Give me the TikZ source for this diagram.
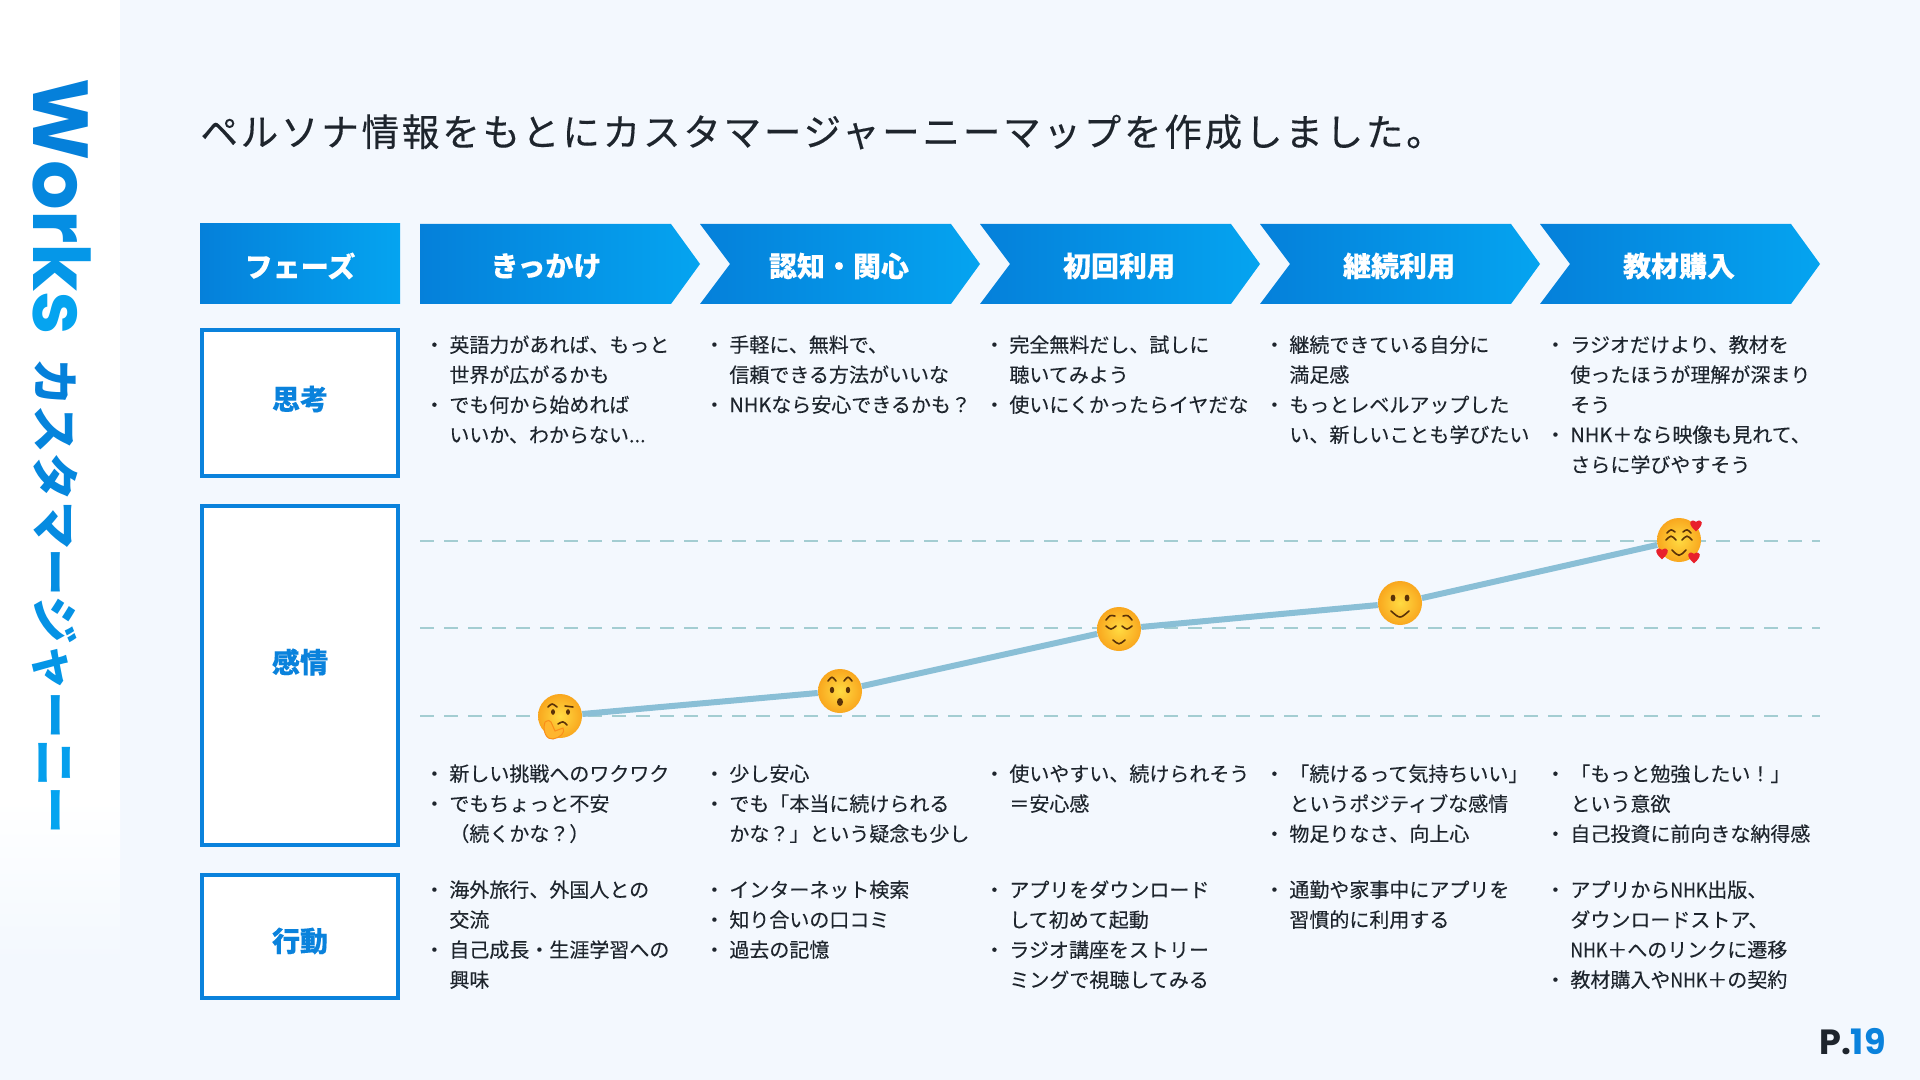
\documentclass[tikz,border=0pt]{standalone}
\usepackage{fontspec}
\setmainfont{Noto Sans CJK JP}[FakeBold=0.12]
\newfontfamily\latinfont{Poppins}
\newfontfamily\sidefont{Noto Sans CJK JP Bold}
\newfontfamily\titlefont{Noto Sans CJK JP}[FakeBold=0.3,LetterSpace=7.2]
\newfontfamily\narrowfont{Noto Sans CJK JP}[FakeBold=0.12,FakeStretch=0.88]
\usetikzlibrary{positioning,calc}
\definecolor{bgpage}{HTML}{F3F8FE}
\definecolor{blueD}{HTML}{0580DA}
\definecolor{blueL}{HTML}{05A4F0}
\definecolor{boxline}{HTML}{0A82DC}
\definecolor{inkdark}{HTML}{1E252D}
\definecolor{moodline}{HTML}{8ABFD6}
\definecolor{guideline}{HTML}{A3CDD2}
\definecolor{faceink}{HTML}{5A3208}
\definecolor{facein}{HTML}{FFDB42}
\definecolor{faceout}{HTML}{F9A71E}
\definecolor{handfill}{HTML}{FFB52E}
\definecolor{heartred}{HTML}{E8202C}
\newcommand{\bl}{\llap{・\kern2.5pt}}
\newcommand{\nhk}{{\narrowfont NHK}}
\newcommand{\hart}[3]{\fill[heartred,shift={(#1,#2)},scale=#3] (0,3.5) .. controls (-5,-0.5) and (-3.5,-4) .. (0,-1.8) .. controls (3.5,-4) and (5,-0.5) .. (0,3.5);}
\tikzset{
  phasefill/.style={left color=blueD,right color=blueL,draw=none},
  phasetext/.style={text=white,font=\fontsize{14}{14}\selectfont\bfseries},
  rowbox/.style={draw=boxline,line width=2pt,fill=white},
  rowtext/.style={text=boxline,font=\fontsize{14}{14}\selectfont\bfseries},
  listtext/.style={anchor=north west,inner sep=0pt,align=left,text=inkdark,
    font=\fontsize{10}{15}\selectfont,execute at begin node=\strut},
  emoji/.style={circle,minimum size=22pt,inner sep=0pt,shade,inner color=facein,outer color=faceout},
  guide/.style={draw=guideline,line width=1pt,dash pattern=on 7pt off 5pt},
  feat/.style={draw=faceink,line width=.8pt,line cap=round}
}
\begin{document}
\begin{tikzpicture}[x=0.5pt,y=-0.5pt]
  \useasboundingbox (0,0) rectangle (1920,1080);
  \fill[bgpage] (0,0) rectangle (1920,1080);
  % side band
  \fill[white] (0,0) rectangle (120,800);
  \shade[top color=white,bottom color=bgpage] (0,800) rectangle (120,960);
  \node[anchor=base west,rotate=-90,inner sep=0pt] (side) at (33,78) {\latinfont\fontsize{39}{39}\selectfont\bfseries
    \textcolor{blueD}{W}\textcolor{blueD!80!blueL}{o}\textcolor{blueD!60!blueL}{r}\textcolor{blueD!35!blueL}{k}\textcolor{blueL}{s}\hspace{11.5pt}\raisebox{2pt}{\sidefont\fontsize{23.8}{24}\selectfont
    \textcolor{blueD}{カ}\textcolor{blueD!90!blueL}{ス}\textcolor{blueD!80!blueL}{タ}\textcolor{blueD!70!blueL}{マ}\textcolor{blueD!60!blueL}{ー}\textcolor{blueD!50!blueL}{ジ}\textcolor{blueD!40!blueL}{ャ}\textcolor{blueD!30!blueL}{ー}\textcolor{blueD!15!blueL}{ニ}\textcolor{blueL}{ー}}};
  \node[anchor=base west,inner sep=0pt,text=inkdark] (title) at (200,146) {\titlefont\fontsize{18.8}{19}\selectfont ペルソナ情報をもとにカスタマージャーニーマップを作成しました。};
  % phase row
  \shade[phasefill] (200,224) rectangle (400,304);
  \node[phasetext] (phase0) at (300,266) {フェーズ};
  \shade[phasefill] (420,224) -- (671,224) -- (700,264) -- (671,304) -- (420,304) -- cycle;
  \foreach \i in {1,...,4} {
    \pgfmathsetmacro{\l}{420+280*\i}
    \shade[phasefill] (\l,224) -- (\l+251,224) -- (\l+280,264) -- (\l+251,304) -- (\l,304) -- (\l+30,264) -- cycle;
  }
  \foreach \i/\x/\t in {1/546/きっかけ,2/839/認知・関心,3/1119/初回利用,4/1399/継続利用,5/1679/教材購入}
    \node[phasetext] (phase\i) at (\x,266) {\t};
  % row labels
  \draw[rowbox] (202,330) rectangle (398,476);
  \node[rowtext] (think) at (300,399) {思考};
  \draw[rowbox] (202,506) rectangle (398,845);
  \node[rowtext] (feel) at (300,662) {感情};
  \draw[rowbox] (202,875) rectangle (398,998);
  \node[rowtext] (act) at (300,941) {行動};
  % thoughts
  \node[listtext] (t1) at (449,335) {\bl 英語力があれば、もっと\\世界が広がるかも\\\bl でも何から始めれば\\いいか、わからない...};
  \node[listtext] (t2) at (729,335) {\bl 手軽に、無料で、\\信頼できる方法がいいな\\\bl NHKなら安心できるかも？};
  \node[listtext] (t3) at (1009,335) {\bl 完全無料だし、試しに\\聴いてみよう\\\bl 使いにくかったらイヤだな};
  \node[listtext] (t4) at (1289,335) {\bl 継続できている自分に\\満足感\\\bl もっとレベルアップした\\い、新しいことも学びたい};
  \node[listtext] (t5) at (1570,335) {\bl ラジオだけより、教材を\\使ったほうが理解が深まり\\そう\\\bl NHK＋なら映像も見れて、\\さらに学びやすそう};
  % mood scale
  \foreach \y in {541,628,716}
    \draw[guide] (420,\y) -- (1820,\y);
  \node[emoji] (emo1) at (560,716) {};
  \node[emoji] (emo2) at (840,691) {};
  \node[emoji] (emo3) at (1119,629) {};
  \node[emoji] (emo4) at (1400,603) {};
  \node[emoji] (emo5) at (1679,540) {};
  \draw[moodline,line width=3pt] (emo1) -- (emo2) -- (emo3) -- (emo4) -- (emo5);
  \begin{scope}[shift={(emo1)}]
    \draw[feat] (-12,-9) .. controls (-8,-13) .. (-3,-9) (5,-10) -- (13,-9);
    \fill[faceink] (-7,-4) ellipse (2 and 2.8) (8,-4) ellipse (2 and 2.8);
    \draw[feat] (-2,8) .. controls (3,5) .. (7,9);
    \draw[fill=handfill,draw=faceout!85!red,line width=.5pt] (-15,6) .. controls (-18,16) and (-13,24) .. (-7,23) .. controls (0,22) and (6,16) .. (3,12) -- (-5,15) -- (-9,6) .. controls (-11,4) .. (-15,6);
  \end{scope}
  \begin{scope}[shift={(emo2)}]
    \draw[feat] (-12,-10) .. controls (-8,-15) .. (-4,-10) (4,-10) .. controls (8,-15) .. (12,-10);
    \fill[faceink] (-8,-1) ellipse (2.2 and 3.2) (8,-1) ellipse (2.2 and 3.2) (0,11) ellipse (3 and 4);
  \end{scope}
  \begin{scope}[shift={(emo3)}]
    \draw[feat] (-13,-9) .. controls (-9,-14) .. (-4,-13) (4,-13) .. controls (9,-14) .. (13,-9);
    \draw[feat] (-13,-3) .. controls (-8,1) .. (-3,-3) (3,-3) .. controls (8,1) .. (13,-3);
    \draw[feat] (-6,11) .. controls (0,16) .. (6,11);
  \end{scope}
  \begin{scope}[shift={(emo4)}]
    \fill[faceink] (-7,-5) ellipse (2.4 and 3.4) (7,-5) ellipse (2.4 and 3.4);
    \draw[feat] (-9,8) .. controls (0,16) .. (9,8);
  \end{scope}
  \begin{scope}[shift={(emo5)}]
    \draw[feat] (-12,-7) .. controls (-8,-11) .. (-4,-8) (4,-8) .. controls (8,-11) .. (12,-7);
    \draw[feat] (-13,0) .. controls (-8,-5) .. (-3,0) (3,0) .. controls (8,-5) .. (13,0);
    \draw[feat] (-7,10) .. controls (0,17) .. (7,10);
    \hart{17}{-15}{1.8}
    \hart{-17}{13}{1.8}
    \hart{15}{17}{1.8}
  \end{scope}
  % feelings
  \node[listtext] (f1) at (449,764) {\bl 新しい挑戦へのワクワク\\\bl でもちょっと不安\\（続くかな？）};
  \node[listtext] (f2) at (729,764) {\bl 少し安心\\\bl でも「本当に続けられる\\かな？」という疑念も少し};
  \node[listtext] (f3) at (1009,764) {\bl 使いやすい、続けられそう\\＝安心感};
  \node[listtext] (f4) at (1289,764) {\bl 「続けるって気持ちいい」\\というポジティブな感情\\\bl 物足りなさ、向上心};
  \node[listtext] (f5) at (1570,764) {\bl 「もっと勉強したい！」\\という意欲\\\bl 自己投資に前向きな納得感};
  % actions
  \node[listtext] (a1) at (449,880) {\bl 海外旅行、外国人との\\交流\\\bl 自己成長・生涯学習への\\興味};
  \node[listtext] (a2) at (729,880) {\bl インターネット検索\\\bl 知り合いの口コミ\\\bl 過去の記憶};
  \node[listtext] (a3) at (1009,880) {\bl アプリをダウンロード\\して初めて起動\\\bl ラジオ講座をストリー\\ミングで視聴してみる};
  \node[listtext] (a4) at (1289,880) {\bl 通勤や家事中にアプリを\\習慣的に利用する};
  \node[listtext] (a5) at (1570,880) {\bl アプリから\nhk 出版、\\ダウンロードストア、\\\nhk＋へのリンクに遷移\\\bl 教材購入や\nhk＋の契約};
  \node[anchor=base east,inner sep=0pt] (page) at (1886,1054) {\latinfont\fontsize{17.5}{18}\selectfont\bfseries\textcolor{inkdark}{P.}\textcolor{boxline}{19}};
\end{tikzpicture}
\end{document}
